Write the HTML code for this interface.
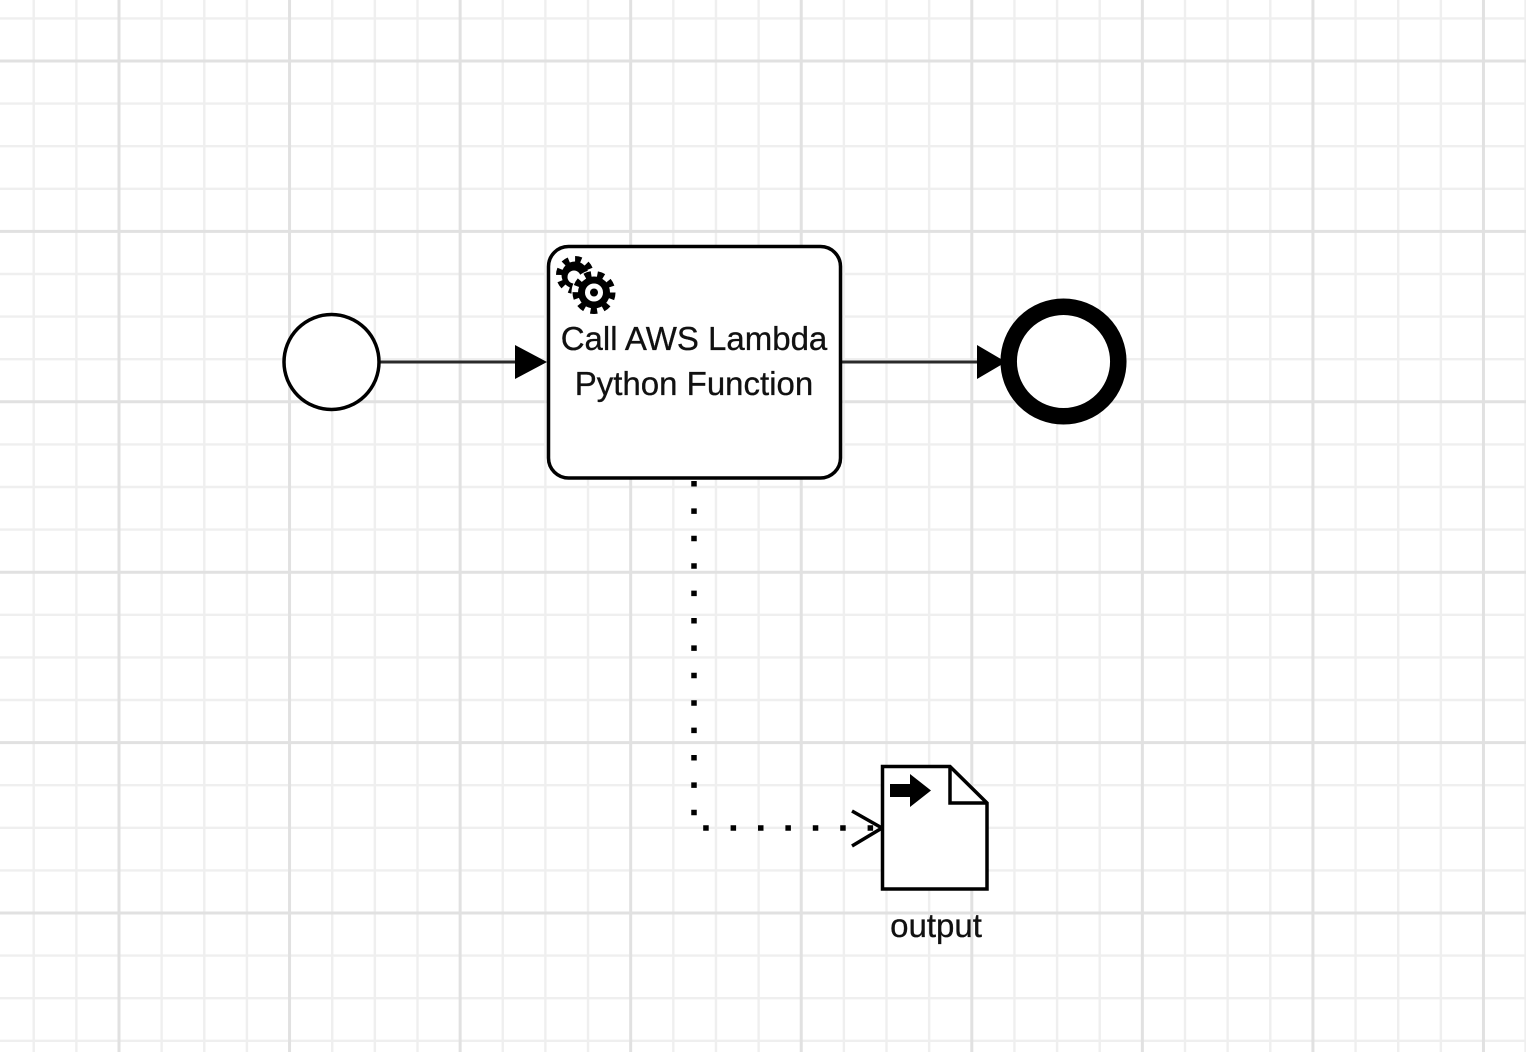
<!DOCTYPE html>
<html>
<head>
<meta charset="utf-8">
<style>
html,body{margin:0;padding:0;background:#fff;}
body{width:1526px;height:1052px;overflow:hidden;}
svg{display:block;}
text{font-family:"Liberation Sans",Arial,sans-serif;fill:#111;stroke:#111;stroke-width:0.3;}
</style>
</head>
<body>
<svg width="1526" height="1052" viewBox="0 0 1526 1052" xmlns="http://www.w3.org/2000/svg">
<rect x="0" y="0" width="1526" height="1052" fill="#fff"/>
<g stroke="#efefef" stroke-width="2.4">
<line x1="33.72" y1="0" x2="33.72" y2="1052"/>
<line x1="76.36" y1="0" x2="76.36" y2="1052"/>
<line x1="161.64" y1="0" x2="161.64" y2="1052"/>
<line x1="204.28" y1="0" x2="204.28" y2="1052"/>
<line x1="246.92" y1="0" x2="246.92" y2="1052"/>
<line x1="332.2" y1="0" x2="332.2" y2="1052"/>
<line x1="374.84" y1="0" x2="374.84" y2="1052"/>
<line x1="417.48" y1="0" x2="417.48" y2="1052"/>
<line x1="502.76" y1="0" x2="502.76" y2="1052"/>
<line x1="545.4" y1="0" x2="545.4" y2="1052"/>
<line x1="588.04" y1="0" x2="588.04" y2="1052"/>
<line x1="673.32" y1="0" x2="673.32" y2="1052"/>
<line x1="715.96" y1="0" x2="715.96" y2="1052"/>
<line x1="758.6" y1="0" x2="758.6" y2="1052"/>
<line x1="843.88" y1="0" x2="843.88" y2="1052"/>
<line x1="886.52" y1="0" x2="886.52" y2="1052"/>
<line x1="929.16" y1="0" x2="929.16" y2="1052"/>
<line x1="1014.44" y1="0" x2="1014.44" y2="1052"/>
<line x1="1057.08" y1="0" x2="1057.08" y2="1052"/>
<line x1="1099.72" y1="0" x2="1099.72" y2="1052"/>
<line x1="1185" y1="0" x2="1185" y2="1052"/>
<line x1="1227.64" y1="0" x2="1227.64" y2="1052"/>
<line x1="1270.28" y1="0" x2="1270.28" y2="1052"/>
<line x1="1355.56" y1="0" x2="1355.56" y2="1052"/>
<line x1="1398.2" y1="0" x2="1398.2" y2="1052"/>
<line x1="1440.84" y1="0" x2="1440.84" y2="1052"/>
<line x1="1525.5" y1="0" x2="1525.5" y2="1052"/>
<line x1="0" y1="18.4" x2="1526" y2="18.4"/>
<line x1="0" y1="103.6" x2="1526" y2="103.6"/>
<line x1="0" y1="146.2" x2="1526" y2="146.2"/>
<line x1="0" y1="188.8" x2="1526" y2="188.8"/>
<line x1="0" y1="274" x2="1526" y2="274"/>
<line x1="0" y1="316.6" x2="1526" y2="316.6"/>
<line x1="0" y1="359.2" x2="1526" y2="359.2"/>
<line x1="0" y1="444.4" x2="1526" y2="444.4"/>
<line x1="0" y1="487" x2="1526" y2="487"/>
<line x1="0" y1="529.6" x2="1526" y2="529.6"/>
<line x1="0" y1="614.8" x2="1526" y2="614.8"/>
<line x1="0" y1="657.4" x2="1526" y2="657.4"/>
<line x1="0" y1="700" x2="1526" y2="700"/>
<line x1="0" y1="785.2" x2="1526" y2="785.2"/>
<line x1="0" y1="827.8" x2="1526" y2="827.8"/>
<line x1="0" y1="870.4" x2="1526" y2="870.4"/>
<line x1="0" y1="955.6" x2="1526" y2="955.6"/>
<line x1="0" y1="998.2" x2="1526" y2="998.2"/>
<line x1="0" y1="1040.8" x2="1526" y2="1040.8"/>
</g>
<g stroke="#e1e1e1" stroke-width="3">
<line x1="119" y1="0" x2="119" y2="1052"/>
<line x1="289.56" y1="0" x2="289.56" y2="1052"/>
<line x1="460.12" y1="0" x2="460.12" y2="1052"/>
<line x1="630.68" y1="0" x2="630.68" y2="1052"/>
<line x1="801.24" y1="0" x2="801.24" y2="1052"/>
<line x1="971.8" y1="0" x2="971.8" y2="1052"/>
<line x1="1142.36" y1="0" x2="1142.36" y2="1052"/>
<line x1="1312.92" y1="0" x2="1312.92" y2="1052"/>
<line x1="1483.48" y1="0" x2="1483.48" y2="1052"/>
<line x1="0" y1="61" x2="1526" y2="61"/>
<line x1="0" y1="231.4" x2="1526" y2="231.4"/>
<line x1="0" y1="401.8" x2="1526" y2="401.8"/>
<line x1="0" y1="572.2" x2="1526" y2="572.2"/>
<line x1="0" y1="742.6" x2="1526" y2="742.6"/>
<line x1="0" y1="913" x2="1526" y2="913"/>
</g>

<line x1="380" y1="362" x2="518" y2="362" stroke="#2a2a2a" stroke-width="3"/>
<polygon points="515,345 547,362 515,379" fill="#000"/>

<line x1="842" y1="362" x2="980" y2="362" stroke="#2a2a2a" stroke-width="3"/>
<polygon points="977,345 1006,362 977,379" fill="#000"/>

<circle cx="331.5" cy="362" r="47.5" fill="#fff" stroke="#000" stroke-width="3.5"/>

<circle cx="1063.5" cy="361.5" r="54.8" fill="#fff" stroke="#000" stroke-width="16.5"/>

<rect x="548.5" y="246.5" width="292" height="231.5" rx="20" ry="20" fill="#fff" stroke="#000" stroke-width="3.5"/>

<g>
  <circle cx="575" cy="275" r="15.5" fill="none" stroke="#000" stroke-width="7" stroke-dasharray="6 6.17"/>
  <circle cx="575" cy="275" r="13.5" fill="#000"/>
  <circle cx="574" cy="277" r="6.5" fill="#fff"/>
  <circle cx="594" cy="292.5" r="22.5" fill="#fff"/>
  <circle cx="594" cy="292.5" r="18" fill="none" stroke="#000" stroke-width="7" stroke-dasharray="6.5 6.07"/>
  <circle cx="594" cy="292.5" r="16" fill="#000"/>
  <circle cx="594" cy="292.5" r="9" fill="#fff"/>
  <circle cx="594" cy="292.5" r="4" fill="#000"/>
</g>

<text x="694" y="350" font-size="33" text-anchor="middle">Call AWS Lambda</text>
<text x="694" y="395" font-size="33" text-anchor="middle">Python Function</text>

<path d="M694,481 L694,828 L880,828" fill="none" stroke="#000" stroke-width="5.5" stroke-dasharray="5.5 21.9"/>
<polyline points="852,811 882,828 852,846" fill="none" stroke="#000" stroke-width="3.5"/>

<path d="M882.5,766.5 L950,766.5 L987,803 L987,889 L882.5,889 Z" fill="#fff" stroke="#000" stroke-width="3.5" stroke-linejoin="miter"/>
<path d="M950,766.5 L950,803 L987,803" fill="none" stroke="#000" stroke-width="3.5"/>
<polygon points="890,784 910,784 910,774 931,790.5 910,807 910,797 890,797" fill="#000"/>
<text x="936" y="937" font-size="33" text-anchor="middle">output</text>
</svg>
</body>
</html>
